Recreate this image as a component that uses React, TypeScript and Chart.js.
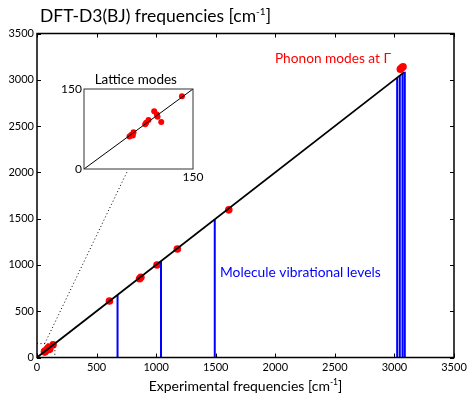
import React, { useEffect, useRef } from "react";
import { Chart, registerables } from "chart.js";
Chart.register(...registerables);

const FONT = "Lato, 'DejaVu Sans', sans-serif";

// Lattice modes (experimental vs computed), cm^-1
const latticeExp = [62.6, 64.9, 67.2, 68.1, 84.2, 85.6, 88.8, 96.6, 100.3, 101.2, 106.3, 134.8];
const latticeCalc = [60.8, 63.9, 62.6, 68.8, 83.7, 86.8, 91.8, 108.5, 102.3, 98.0, 88.0, 136.4];
// Molecular modes
const moleculeExp = [608, 861, 872, 1007, 1178, 1610, 3050, 3062, 3072];
const moleculeCalc = [610, 851, 866, 999, 1172, 1595, 3115, 3130, 3140];
// Molecule vibrational levels (blue bars)
const vibrationalLevels = [676, 1041, 1492, 3023, 3045, 3068, 3087];
const diagonalEnd = 3080;
const mainTicks = [0, 500, 1000, 1500, 2000, 2500, 3000, 3500];
const insetTicks = [0, 150];
const zoomBox = 150;
const connectorStart = [65, 150];
const connectorEnd = [757, 2009];

function drawRich(ctx: CanvasRenderingContext2D, parts: { t: string; size: number; dy?: number }[], x: number, y: number, align: "left" | "center" | "right", color: string) {
  ctx.save();
  ctx.fillStyle = color;
  ctx.textBaseline = "alphabetic";
  ctx.textAlign = "left";
  let total = 0;
  const widths = parts.map((p) => {
    ctx.font = `${p.size}px ${FONT}`;
    const w = ctx.measureText(p.t).width;
    total += w;
    return w;
  });
  let cx = align === "left" ? x : align === "center" ? x - total / 2 : x - total;
  parts.forEach((p, i) => {
    ctx.font = `${p.size}px ${FONT}`;
    ctx.fillText(p.t, cx, y + (p.dy || 0));
    cx += widths[i];
  });
  ctx.restore();
}

const framePlugin = {
  id: "frame",
  afterDatasetsDraw(chart: any, _args: any, opts: any) {
    const { ctx, chartArea: a, scales } = chart;
    const x = scales.x, y = scales.y;
    ctx.save();
    ctx.strokeStyle = opts.color || "#000";
    ctx.lineWidth = opts.lineWidth || 1;
    ctx.strokeRect(a.left, a.top, a.right - a.left, a.bottom - a.top);
    const L = opts.tickLen || 0;
    if (L > 0) {
      ctx.lineWidth = 1;
      ctx.beginPath();
      (opts.ticks || []).forEach((v: number) => {
        const px = Math.round(x.getPixelForValue(v)) + 0.5;
        ctx.moveTo(px, a.bottom); ctx.lineTo(px, a.bottom - L);
        ctx.moveTo(px, a.top); ctx.lineTo(px, a.top + L);
        const py = Math.round(y.getPixelForValue(v)) + 0.5;
        ctx.moveTo(a.left, py); ctx.lineTo(a.left + L, py);
        ctx.moveTo(a.right, py); ctx.lineTo(a.right - L, py);
      });
      ctx.stroke();
    }
    ctx.restore();
  },
};

const textPlugin = {
  id: "texts",
  afterDraw(chart: any, _args: any, opts: any) {
    (opts.items || []).forEach((it: any) => drawRich(chart.ctx, it.parts, it.x, it.y, it.align, it.color));
  },
};

export default function App() {
  const mainRef = useRef<HTMLCanvasElement>(null);
  const insetRef = useRef<HTMLCanvasElement>(null);

  useEffect(() => {
    Chart.defaults.font.family = FONT;
    Chart.defaults.color = "#000";

    const levelData: any[] = [];
    vibrationalLevels.forEach((v) => {
      levelData.push({ x: v, y: 0 }, { x: v, y: v }, { x: v, y: null });
    });
    const points = [
      ...latticeExp.map((x, i) => ({ x, y: latticeCalc[i] })),
      ...moleculeExp.map((x, i) => ({ x, y: moleculeCalc[i] })),
    ];

    const noGrid = { display: false, drawTicks: false, tickLength: 0 };

    const main = new Chart(mainRef.current!, {
      type: "scatter",
      data: {
        datasets: [
          { data: [{ x: 0, y: 0 }, { x: diagonalEnd, y: diagonalEnd }], showLine: true, borderColor: "#000", borderWidth: 1.8, pointRadius: 0 } as any,
          { data: levelData, showLine: true, spanGaps: false, borderColor: "#0000ff", borderWidth: 2, pointRadius: 0 } as any,
          { data: [{ x: connectorStart[0], y: connectorStart[1] }, { x: connectorEnd[0], y: connectorEnd[1] }], showLine: true, borderColor: "#000", borderWidth: 1, borderDash: [1, 2.5], pointRadius: 0 } as any,
          { data: [{ x: 0, y: zoomBox }, { x: zoomBox, y: zoomBox }, { x: zoomBox, y: 0 }], showLine: true, borderColor: "#000", borderWidth: 1, borderDash: [1, 2.5], pointRadius: 0 } as any,
          { data: points, pointRadius: 3.8, pointBackgroundColor: "#ff0000", pointBorderWidth: 0, borderColor: "#ff0000" } as any,
        ],
      },
      options: {
        responsive: false,
        animation: false,
        layout: { padding: { top: 33.5, right: 17, left: 0, bottom: 0 } },
        scales: {
          x: {
            type: "linear", min: 0, max: 3500,
            grid: noGrid, border: { display: false },
            afterBuildTicks: (s: any) => { s.ticks = mainTicks.map((value) => ({ value })); },
            afterFit: (s: any) => { s.height = 40.5; },
            ticks: { font: { size: 11 }, padding: 3, maxRotation: 0, autoSkip: false, callback: (v: any) => String(v) },
          },
          y: {
            type: "linear", min: 0, max: 3500,
            grid: noGrid, border: { display: false },
            afterBuildTicks: (s: any) => { s.ticks = mainTicks.map((value) => ({ value })); },
            afterFit: (s: any) => { s.width = 37; },
            ticks: { font: { size: 11 }, padding: 3, autoSkip: false, callback: (v: any) => String(v) },
          },
        },
        plugins: {
          legend: { display: false },
          tooltip: { enabled: false },
          frame: { lineWidth: 1.5, tickLen: 4, ticks: mainTicks },
          texts: {
            items: [
              { parts: [{ t: "DFT-D3(BJ) frequencies [cm", size: 17.5 }, { t: "-1", size: 10, dy: -7 }, { t: "]", size: 17.5 }], x: 40, y: 22, align: "left", color: "#000" },
              { parts: [{ t: "Experimental frequencies [cm", size: 14 }, { t: "-1", size: 8.5, dy: -6 }, { t: "]", size: 14 }], x: 245.5, y: 390.5, align: "center", color: "#000" },
              { parts: [{ t: "Phonon modes at \u0393", size: 13.7 }], x: 391, y: 63.3, align: "right", color: "#ff0000" },
              { parts: [{ t: "Molecule vibrational levels", size: 13.8 }], x: 220, y: 277.3, align: "left", color: "#0000ff" },
            ],
          },
        } as any,
      },
      plugins: [framePlugin, textPlugin],
    });

    const inset = new Chart(insetRef.current!, {
      type: "scatter",
      data: {
        datasets: [
          { data: [{ x: 0, y: 0 }, { x: 150, y: 150 }], showLine: true, borderColor: "#000", borderWidth: 1, pointRadius: 0 } as any,
          { data: latticeExp.map((x, i) => ({ x, y: latticeCalc[i] })), pointRadius: 3, pointBackgroundColor: "#ff0000", pointBorderWidth: 0 } as any,
        ],
      },
      options: {
        responsive: false,
        animation: false,
        layout: { padding: { top: 24, right: 12, left: 0, bottom: 0 } },
        scales: {
          x: {
            type: "linear", min: 0, max: 150,
            grid: noGrid, border: { display: false },
            afterBuildTicks: (s: any) => { s.ticks = insetTicks.filter((v) => v !== 0).map((value) => ({ value })); },
            afterFit: (s: any) => { s.height = 31; },
            ticks: { font: { size: 12 }, padding: 1, maxRotation: 0, autoSkip: false, callback: (v: any) => String(v) },
          },
          y: {
            type: "linear", min: 0, max: 150,
            grid: noGrid, border: { display: false },
            afterBuildTicks: (s: any) => { s.ticks = insetTicks.map((value) => ({ value })); },
            afterFit: (s: any) => { s.width = 29; },
            ticks: { font: { size: 12 }, padding: 2, autoSkip: false, callback: (v: any) => String(v) },
          },
        },
        plugins: {
          legend: { display: false },
          tooltip: { enabled: false },
          frame: { lineWidth: 1, color: "#333", tickLen: 0 },
          texts: {
            items: [{ parts: [{ t: "Lattice modes", size: 13.5 }], x: 80.8, y: 19.3, align: "center", color: "#000" }],
          },
        } as any,
      },
      plugins: [framePlugin, textPlugin],
    });

    return () => {
      main.destroy();
      inset.destroy();
    };
  }, []);

  return (
    <div style={{ position: "absolute", left: 0, top: 0, width: 471, height: 398, background: "#fff" }}>
      <canvas ref={mainRef} width={471} height={398} style={{ position: "absolute", left: 0, top: 0 }} />
      <canvas ref={insetRef} width={150} height={135} style={{ position: "absolute", left: 55, top: 65 }} />
    </div>
  );
}
